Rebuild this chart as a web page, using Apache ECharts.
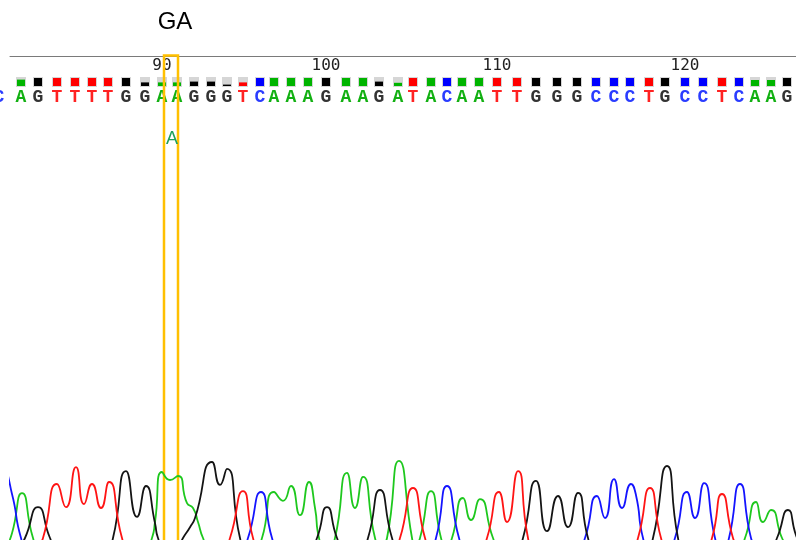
<!DOCTYPE html>
<html>
<head>
<meta charset="utf-8">
<script src="https://cdn.jsdelivr.net/npm/echarts@6/dist/echarts.min.js"></script>
<style>
  html, body { margin: 0; padding: 0; background: #fff; }
  #chart { width: 796px; height: 540px; }
</style>
</head>
<body>
<div id="chart"></div>
<script>
// Sanger read, bases 81-126 (scan = trace sample position)
const firstBaseNumber = 81;
const baseCalls = 'CAGTTTTGGAAGGGTCAAAGAAGATACAATTGGGCCCTGCCTCAAG';
const basePositions = [-11, 11, 28, 47, 65, 82, 98, 116, 135, 152, 167, 184, 201, 217, 233, 250,
  264, 281, 298, 316, 336, 353, 369, 388, 403, 421, 437, 452, 469, 487, 507, 526, 547, 567,
  586, 604, 620, 639, 655, 675, 693, 712, 729, 745, 761, 777];
const baseQuality = [40, 32, 40, 40, 40, 40, 40, 40, 18, 18, 18, 22, 22, 7, 18, 40, 40, 40, 40, 40,
  40, 40, 22, 16, 40, 40, 40, 40, 40, 40, 40, 40, 40, 40, 40, 40, 40, 40, 40, 40, 40, 40, 40,
  30, 30, 40];

// Heterozygous site: genotype title, region and secondary call
const variantGenotype = 'GA';
const variantRange = [154, 168];
const variantCall = 'A';

// Dye traces: [scan, signal]
const traceA = [
  [-4, 0], [2, 37], [12, 137], [23, 25], [29, 0],
  [136, 0], [142, 25], [145, 65], [152, 190], [160, 170], [168, 180], [177, 112], [183, 100], [188, 65], [193, 25], [199, 0],
  [246, 0], [252, 25], [264, 140], [273, 118], [281, 155], [290, 82], [299, 165], [305, 100], [309, 25], [315, 0],
  [319, 0], [325, 25], [337, 188], [345, 100], [353, 178], [365, 25], [371, 0],
  [371.5, 0], [377, 25], [389, 218], [402, 25], [405, 0],
  [405.5, 0], [410, 25], [421, 142], [431, 25], [436, 0],
  [437, 0], [442, 25], [453, 125], [461, 70], [470, 122], [483, 25], [489, 0],
  [729, 0], [735, 25], [746, 115], [753, 65], [761, 95], [772, 25], [778, 0]
];
const traceC = [
  [-14, 120], [-6, 195], [2, 135], [11, 25], [17, 0],
  [232, 0], [238, 25], [251, 140], [262, 25], [268, 0],
  [420, 0], [426, 25], [437, 155], [449, 25], [455, 0],
  [569, 0], [575, 25], [587, 130], [595, 75], [604, 172], [612, 100], [621, 160], [626, 132], [633, 25], [639, 0],
  [659, 0], [665, 25], [677, 140], [685, 75], [694, 162], [705, 25], [710, 0],
  [714, 0], [719, 25], [730, 160], [741, 25], [747, 0]
];
const traceG = [
  [9, 0], [15, 25], [28, 102], [40, 25], [46, 0],
  [97, 0], [103, 25], [116, 192], [127, 78], [136, 155], [145, 62], [148, 25], [154, 0],
  [167, 0], [173, 25], [180, 52], [185, 75], [202, 215], [210, 158], [217, 198], [230, 25], [236, 0],
  [301, 0], [307, 25], [317, 102], [327, 25], [333, 0],
  [352, 0], [358, 25], [370, 145], [382, 25], [388, 0],
  [507, 0], [513, 25], [526, 168], [537, 42], [548, 130], [558, 52], [568, 138], [578, 25], [584, 0],
  [637, 0], [643, 25], [657, 205], [668, 25], [674, 0],
  [761, 0], [767, 25], [778, 95], [786, 32], [792, 0]
];
const traceT = [
  [27, 0], [33, 25], [47, 160], [56, 102], [66, 202], [74, 110], [82, 160], [91, 100], [99, 165], [112, 25], [118, 0],
  [214, 0], [220, 25], [233, 142], [243, 25], [249, 0],
  [384, 0], [390, 25], [403, 150], [415, 25], [421, 0],
  [471, 0], [477, 25], [489, 140], [497, 65], [508, 192], [518, 25], [524, 0],
  [622, 0], [628, 25], [640, 150], [651, 25], [657, 0],
  [696, 0], [702, 25], [712, 135], [723, 25], [729, 0]
];

const TRACE_COLORS = { A: '#1ec81e', C: '#1414ff', G: '#141414', T: '#ff1414' };
const CALL_COLORS = { A: '#12b012', C: '#2a3cff', G: '#333333', T: '#ff2222' };
const QUAL_COLORS = { A: '#00b400', C: '#0000ff', G: '#000000', T: '#ff0000' };

// Header lanes, measured in px down from the ruler line
const RULER_ROW = 10;
const QUAL_ROW = 26;
const CALL_ROW = 41;
const VARIANT_LABEL_ROW = 83;
const MAX_QUAL = 40;

const chart = echarts.init(document.getElementById('chart'), null, { renderer: 'canvas' });

function traceSeries(name, data) {
  return {
    name: name, type: 'line', xAxisIndex: 0, yAxisIndex: 0,
    data: data, smooth: 0.6, showSymbol: false, symbol: 'none', clip: true,
    silent: true, animation: false,
    lineStyle: { color: TRACE_COLORS[name], width: 1.8 }
  };
}

const rulerData = [];
basePositions.forEach((s, i) => {
  const n = firstBaseNumber + i;
  if (n % 10 === 0) rulerData.push([s, RULER_ROW, n]);
});

chart.setOption({
  animation: false,
  backgroundColor: '#ffffff',
  title: {
    text: variantGenotype, left: 175, top: 10, textAlign: 'center', padding: 0,
    textStyle: { fontFamily: 'Liberation Sans', fontSize: 24, fontWeight: 'normal', color: '#000' }
  },
  grid: { left: 10, right: 0, top: 56, bottom: 0 },
  xAxis: {
    type: 'value', min: 0, max: 786, position: 'top',
    axisLine: { show: true, lineStyle: { color: '#7a7a7a', width: 1 } },
    axisTick: { show: false }, axisLabel: { show: false }, splitLine: { show: false }
  },
  yAxis: [
    { type: 'value', min: 20, max: 1230, show: false, splitLine: { show: false } },
    { type: 'value', min: 0, max: 484, inverse: true, show: false, splitLine: { show: false } }
  ],
  series: [
    traceSeries('A', traceA),
    traceSeries('C', traceC),
    traceSeries('G', traceG),
    traceSeries('T', traceT),
    {
      // position ruler
      type: 'custom', xAxisIndex: 0, yAxisIndex: 1, silent: true,
      data: rulerData,
      renderItem: function (params, api) {
        const p = api.coord([api.value(0), api.value(1)]);
        return {
          type: 'text', x: p[0], y: p[1],
          style: {
            text: String(api.value(2)), fill: '#222',
            font: '16px "DejaVu Sans Mono"', align: 'center', verticalAlign: 'middle'
          }
        };
      }
    },
    {
      // quality bars
      type: 'custom', xAxisIndex: 0, yAxisIndex: 1, silent: true, clip: true,
      data: basePositions.map((s, i) => [s, QUAL_ROW, baseQuality[i]]),
      renderItem: function (params, api) {
        const p = api.coord([api.value(0), api.value(1)]);
        const b = baseCalls[params.dataIndex];
        const frac = Math.min(api.value(2) / MAX_QUAL, 1);
        const h = 8 * frac;
        return {
          type: 'group',
          children: [
            { type: 'rect', shape: { x: Math.round(p[0]) - 5, y: Math.round(p[1]) - 5, width: 10, height: 10 },
              style: { fill: '#d6d6d6' } },
            { type: 'rect', shape: { x: Math.round(p[0]) - 4, y: Math.round(p[1]) + 4 - h, width: 8, height: h },
              style: { fill: QUAL_COLORS[b] } }
          ]
        };
      }
    },
    {
      // base calls
      type: 'custom', xAxisIndex: 0, yAxisIndex: 1, silent: true,
      data: basePositions.map(s => [s, CALL_ROW]),
      renderItem: function (params, api) {
        const p = api.coord([api.value(0), api.value(1)]);
        const b = baseCalls[params.dataIndex];
        return {
          type: 'text', x: p[0], y: p[1],
          style: {
            text: b, fill: CALL_COLORS[b],
            font: 'bold 18px "Liberation Mono"', align: 'center', verticalAlign: 'middle'
          }
        };
      }
    },
    {
      // variant highlight
      type: 'custom', xAxisIndex: 0, yAxisIndex: 1, silent: true,
      data: [[variantRange[0], variantRange[1]]],
      renderItem: function (params, api) {
        const p0 = api.coord([api.value(0), 0]);
        const p1 = api.coord([api.value(1), 0]);
        const pl = api.coord([(api.value(0) + api.value(1)) / 2, VARIANT_LABEL_ROW]);
        return {
          type: 'group',
          children: [
            { type: 'rect', shape: { x: p0[0], y: p0[1] - 0.5, width: p1[0] - p0[0], height: 520 },
              style: { fill: 'none', stroke: '#ffc000', lineWidth: 2.5 } },
            { type: 'text', x: pl[0] + 1, y: pl[1],
              style: { text: variantCall, fill: '#1fa05a', font: '18px "Liberation Sans"',
                       align: 'center', verticalAlign: 'middle' } }
          ]
        };
      }
    }
  ]
});
</script>
</body>
</html>
